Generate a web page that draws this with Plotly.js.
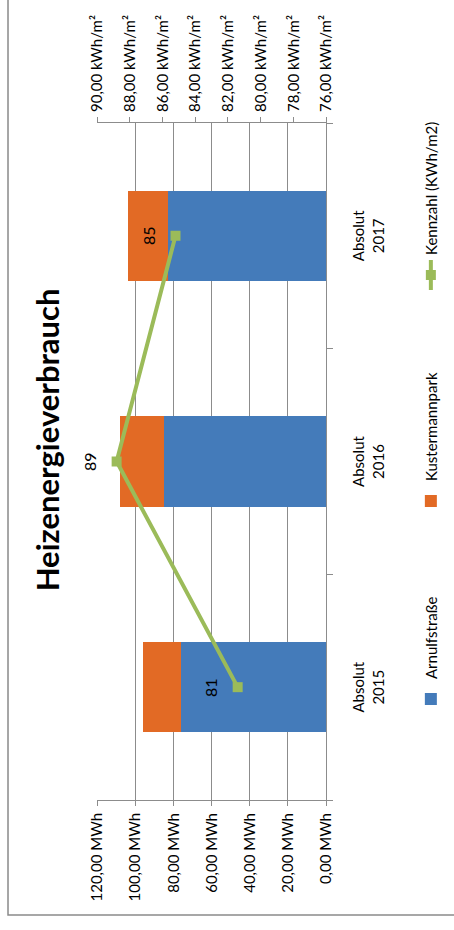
<!DOCTYPE html>
<html>
<head>
<meta charset="utf-8">
<script src="https://cdn.plot.ly/plotly-3.0.1.min.js"></script>
<style>
  html, body { margin: 0; padding: 0; background: #ffffff; overflow: hidden; }
  #wrap { position: absolute; left: 0; top: 0; width: 454px; height: 930px; overflow: hidden; }
  /* The chart is laid out landscape and turned a quarter turn counter-clockwise */
  #chart { position: absolute; left: 0; top: 0; width: 930px; height: 454px;
           transform-origin: 0 0; transform: translateY(930px) rotate(-90deg); }
</style>
</head>
<body>
<div id="wrap"><div id="chart"></div></div>
<script>
// Heating energy consumption per year
const categories = ['Absolut<br>2015', 'Absolut<br>2016', 'Absolut<br>2017'];
const arnulfstrasse = [75.9, 84.8, 82.9];      // MWh
const kustermannpark = [19.8, 23.0, 20.6];     // MWh
const kennzahl = [81.4, 88.8, 85.2];           // kWh/m²
const mwhTicks = [0, 20, 40, 60, 80, 100, 120];
const kwhTicks = [76, 78, 80, 82, 84, 86, 88, 90];

const FONT = 'Lato, "Open Sans", sans-serif';
const GRID = '#8c8c8c';
const BLUE = '#447bba';
const ORANGE = '#e26a25';
const GREEN = '#9bbb59';

// German number format: two decimals, comma as decimal mark
const deNum = v => v.toFixed(2).replace('.', ',');

const traces = [
  {
    type: 'bar', name: 'Arnulfstraße', x: categories, y: arnulfstrasse,
    marker: { color: BLUE }, hoverinfo: 'skip', legend: 'legend'
  },
  {
    type: 'bar', name: 'Kustermannpark', x: categories, y: kustermannpark,
    marker: { color: ORANGE }, hoverinfo: 'skip', legend: 'legend2'
  },
  {
    type: 'scatter', mode: 'lines+markers', name: 'Kennzahl (KWh/m2)',
    x: categories, y: kennzahl, yaxis: 'y2',
    line: { color: GREEN, width: 4 },
    marker: { symbol: 'square', size: 10, color: GREEN },
    hoverinfo: 'skip', legend: 'legend3'
  }
];

// value labels above the Kennzahl points
const labels = categories.map((c, i) => ({
  x: c, y: kennzahl[i], xref: 'x', yref: 'y2',
  text: kennzahl[i].toFixed(0), showarrow: false,
  yshift: 27, font: { family: FONT, size: 16, color: '#000' }
}));

const legendBase = {
  orientation: 'h', xanchor: 'left', y: -0.459, yanchor: 'middle',
  font: { family: FONT, size: 15, color: '#000' }, bgcolor: 'rgba(0,0,0,0)'
};

const layout = {
  width: 930, height: 454,
  margin: { l: 130, r: 123, t: 97, b: 128, pad: 0, autoexpand: false },
  paper_bgcolor: '#ffffff', plot_bgcolor: '#ffffff',
  font: { family: FONT, size: 15, color: '#000' },
  barmode: 'stack', bargap: 0.6,
  showlegend: true,
  title: {
    text: '<b>Heizenergieverbrauch</b>',
    font: { family: FONT, size: 31, color: '#000' },
    xref: 'container', x: 0.527, xanchor: 'center',
    yref: 'container', y: 0.894, yanchor: 'middle'
  },
  xaxis: {
    type: 'category', showgrid: false,
    showline: true, linecolor: GRID, linewidth: 1,
    ticks: 'outside', tickson: 'boundaries', ticklen: 6, tickcolor: GRID,
    ticklabelstandoff: 19,
    tickfont: { family: FONT, size: 15 }, fixedrange: true
  },
  yaxis: {
    range: [0, 120], tickmode: 'array', tickvals: mwhTicks,
    ticktext: mwhTicks.map(v => deNum(v) + ' MWh'),
    showgrid: true, gridcolor: GRID, gridwidth: 1, zeroline: false,
    showline: true, linecolor: GRID, ticks: 'outside', ticklen: 5, tickcolor: GRID,
    ticklabelstandoff: 4,
    tickfont: { family: FONT, size: 15 }, fixedrange: true
  },
  yaxis2: {
    overlaying: 'y', side: 'right',
    range: [76, 90], tickmode: 'array', tickvals: kwhTicks,
    ticktext: kwhTicks.map(v => deNum(v) + ' kWh/m²'),
    showgrid: false, zeroline: false,
    showline: true, linecolor: GRID, ticks: 'outside', ticklen: 5, tickcolor: GRID,
    ticklabelstandoff: 2,
    tickfont: { family: FONT, size: 15 }, fixedrange: true
  },
  legend: Object.assign({}, legendBase, { x: 0.1196 }),
  legend2: Object.assign({}, legendBase, { x: 0.412 }),
  legend3: Object.assign({}, legendBase, { x: 0.746 }),
  annotations: labels,
  shapes: [
    // chart frame
    { type: 'rect', xref: 'paper', yref: 'paper',
      x0: -0.1699, x1: 2, y0: -2, y1: 1.3886,
      line: { color: '#8a8a8a', width: 1.5 }, fillcolor: 'rgba(0,0,0,0)', layer: 'below' }
  ]
};

Plotly.newPlot('chart', traces, layout, { staticPlot: true, displayModeBar: false });
</script>
</body>
</html>
